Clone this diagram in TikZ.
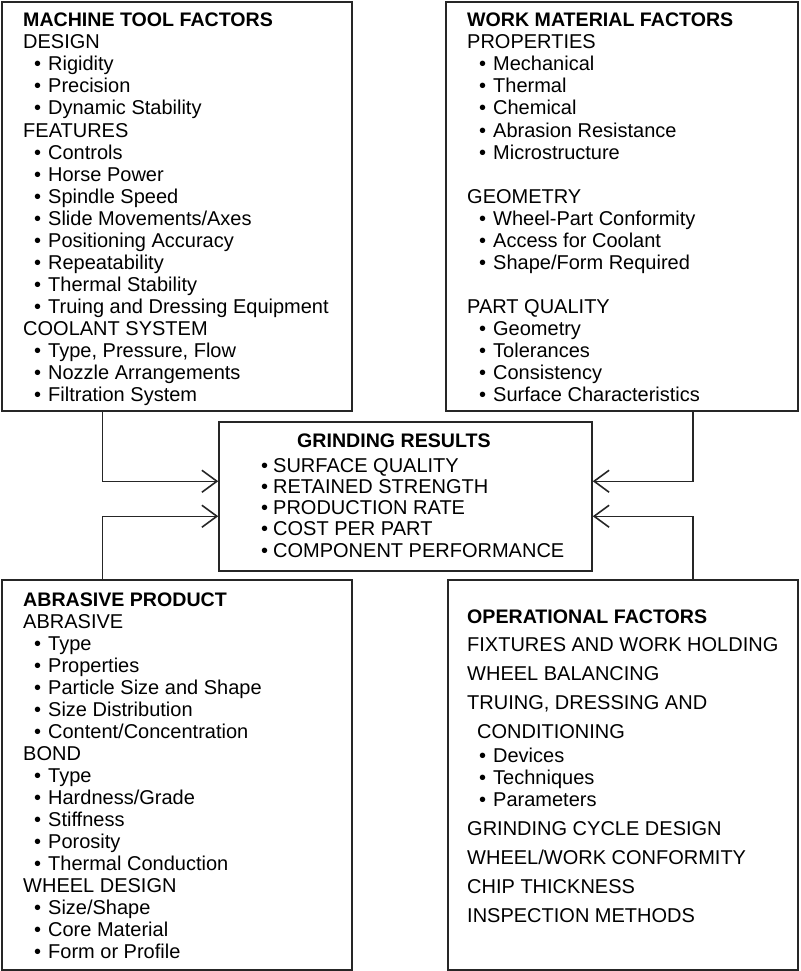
\documentclass[tikz,border=0pt]{standalone}
\usepackage{fontspec}
\setmainfont{Liberation Sans}
\usetikzlibrary{arrows.meta}
\newcommand\bul{\makebox[14pt][l]{\textbullet}}
\newcommand\bulc{\makebox[12pt][l]{\textbullet}}
\tikzset{
  box/.style={draw=black!85, line width=1.5pt, inner sep=0pt, fill=none},
  txt/.style={anchor=base west, inner sep=0pt, font=\fontsize{20}{22}\selectfont},
  ttl/.style={txt, font=\fontsize{19.6}{22}\selectfont\bfseries},
  arr/.style={draw=black!85, line width=1.5pt, -{Straight Barb[length=15pt,width=22pt,line width=1.6pt]}}
}
\begin{document}
\begin{tikzpicture}[x=1pt,y=-1pt]
\useasboundingbox (0,0) rectangle (800,971);
% boxes
\node[box, minimum width=350pt, minimum height=409pt] (mt) at (177,206.5) {};
\node[box, minimum width=352pt, minimum height=409pt] (wm) at (622,206.5) {};
\node[box, minimum width=373pt, minimum height=149pt] (res) at (405.5,496.5) {};
\node[box, minimum width=350pt, minimum height=390pt] (ab) at (177,775) {};
\node[box, minimum width=350pt, minimum height=390pt] (op) at (623,775) {};
% connectors
\draw[arr] ([xshift=101pt]mt.south west) |- ([yshift=-60pt]res.north west);
\draw[arr] ([xshift=101pt]ab.north west) |- ([yshift=-95pt]res.north west);
\draw[arr] ([xshift=-106pt]wm.south east) |- ([yshift=-60pt]res.north east);
\draw[arr] ([xshift=-106pt]op.north east) |- ([yshift=-95pt]res.north east);
% machine tool factors
\node[ttl] (m0) at (23,27) {MACHINE TOOL FACTORS};
\node[txt] (m1) at (23,49) {DESIGN};
\node[txt] (m2) at (34,71) {\bul Rigidity};
\node[txt] (m3) at (34,93) {\bul Precision};
\node[txt] (m4) at (34,115) {\bul Dynamic Stability};
\node[txt] (m5) at (23,137) {FEATURES};
\node[txt] (m6) at (34,159) {\bul Controls};
\node[txt] (m7) at (34,181) {\bul Horse Power};
\node[txt] (m8) at (34,203) {\bul Spindle Speed};
\node[txt] (m9) at (34,225) {\bul Slide Movements/Axes};
\node[txt] (m10) at (34,247) {\bul Positioning Accuracy};
\node[txt] (m11) at (34,269) {\bul Repeatability};
\node[txt] (m12) at (34,291) {\bul Thermal Stability};
\node[txt] (m13) at (34,313) {\bul Truing and Dressing Equipment};
\node[txt] (m14) at (23,335) {COOLANT SYSTEM};
\node[txt] (m15) at (34,357) {\bul Type, Pressure, Flow};
\node[txt] (m16) at (34,379) {\bul Nozzle Arrangements};
\node[txt] (m17) at (34,401) {\bul Filtration System};
% work material factors
\node[ttl] (w0) at (467,27) {WORK MATERIAL FACTORS};
\node[txt] (w1) at (467,49) {PROPERTIES};
\node[txt] (w2) at (479,71) {\bul Mechanical};
\node[txt] (w3) at (479,93) {\bul Thermal};
\node[txt] (w4) at (479,115) {\bul Chemical};
\node[txt] (w5) at (479,137) {\bul Abrasion Resistance};
\node[txt] (w6) at (479,159) {\bul Microstructure};
\node[txt] (w7) at (467,203) {GEOMETRY};
\node[txt] (w8) at (479,225) {\bul Wheel-Part Conformity};
\node[txt] (w9) at (479,247) {\bul Access for Coolant};
\node[txt] (w10) at (479,269) {\bul Shape/Form Required};
\node[txt] (w11) at (467,313) {PART QUALITY};
\node[txt] (w12) at (479,335) {\bul Geometry};
\node[txt] (w13) at (479,357) {\bul Tolerances};
\node[txt] (w14) at (479,379) {\bul Consistency};
\node[txt] (w15) at (479,401) {\bul Surface Characteristics};
% grinding results
\node[ttl] (r0) at (297,447) {GRINDING RESULTS};
\node[txt] (r1) at (261,472) {\bulc SURFACE QUALITY};
\node[txt] (r2) at (261,493.25) {\bulc RETAINED STRENGTH};
\node[txt] (r3) at (261,514.5) {\bulc PRODUCTION RATE};
\node[txt] (r4) at (261,535.75) {\bulc COST PER PART};
\node[txt] (r5) at (261,557) {\bulc COMPONENT PERFORMANCE};
% abrasive product
\node[ttl] (a0) at (23,606) {ABRASIVE PRODUCT};
\node[txt] (a1) at (23,628) {ABRASIVE};
\node[txt] (a2) at (34,650) {\bul Type};
\node[txt] (a3) at (34,672) {\bul Properties};
\node[txt] (a4) at (34,694) {\bul Particle Size and Shape};
\node[txt] (a5) at (34,716) {\bul Size Distribution};
\node[txt] (a6) at (34,738) {\bul Content/Concentration};
\node[txt] (a7) at (23,760) {BOND};
\node[txt] (a8) at (34,782) {\bul Type};
\node[txt] (a9) at (34,804) {\bul Hardness/Grade};
\node[txt] (a10) at (34,826) {\bul Stiffness};
\node[txt] (a11) at (34,848) {\bul Porosity};
\node[txt] (a12) at (34,870) {\bul Thermal Conduction};
\node[txt] (a13) at (23,892) {WHEEL DESIGN};
\node[txt] (a14) at (34,914) {\bul Size/Shape};
\node[txt] (a15) at (34,936) {\bul Core Material};
\node[txt] (a16) at (34,958) {\bul Form or Profile};
% operational factors
\node[ttl] (o0) at (467,623) {OPERATIONAL FACTORS};
\node[txt] (o1) at (467,651) {FIXTURES AND WORK HOLDING};
\node[txt] (o2) at (467,680) {WHEEL BALANCING};
\node[txt] (o3) at (467,709) {TRUING, DRESSING AND};
\node[txt] (o4) at (477,738) {CONDITIONING};
\node[txt] (o5) at (479,762) {\bul Devices};
\node[txt] (o6) at (479,784) {\bul Techniques};
\node[txt] (o7) at (479,806) {\bul Parameters};
\node[txt] (o8) at (467,835) {GRINDING CYCLE DESIGN};
\node[txt] (o9) at (467,864) {WHEEL/WORK CONFORMITY};
\node[txt] (o10) at (467,893) {CHIP THICKNESS};
\node[txt] (o11) at (467,922) {INSPECTION METHODS};
\end{tikzpicture}
\end{document}
